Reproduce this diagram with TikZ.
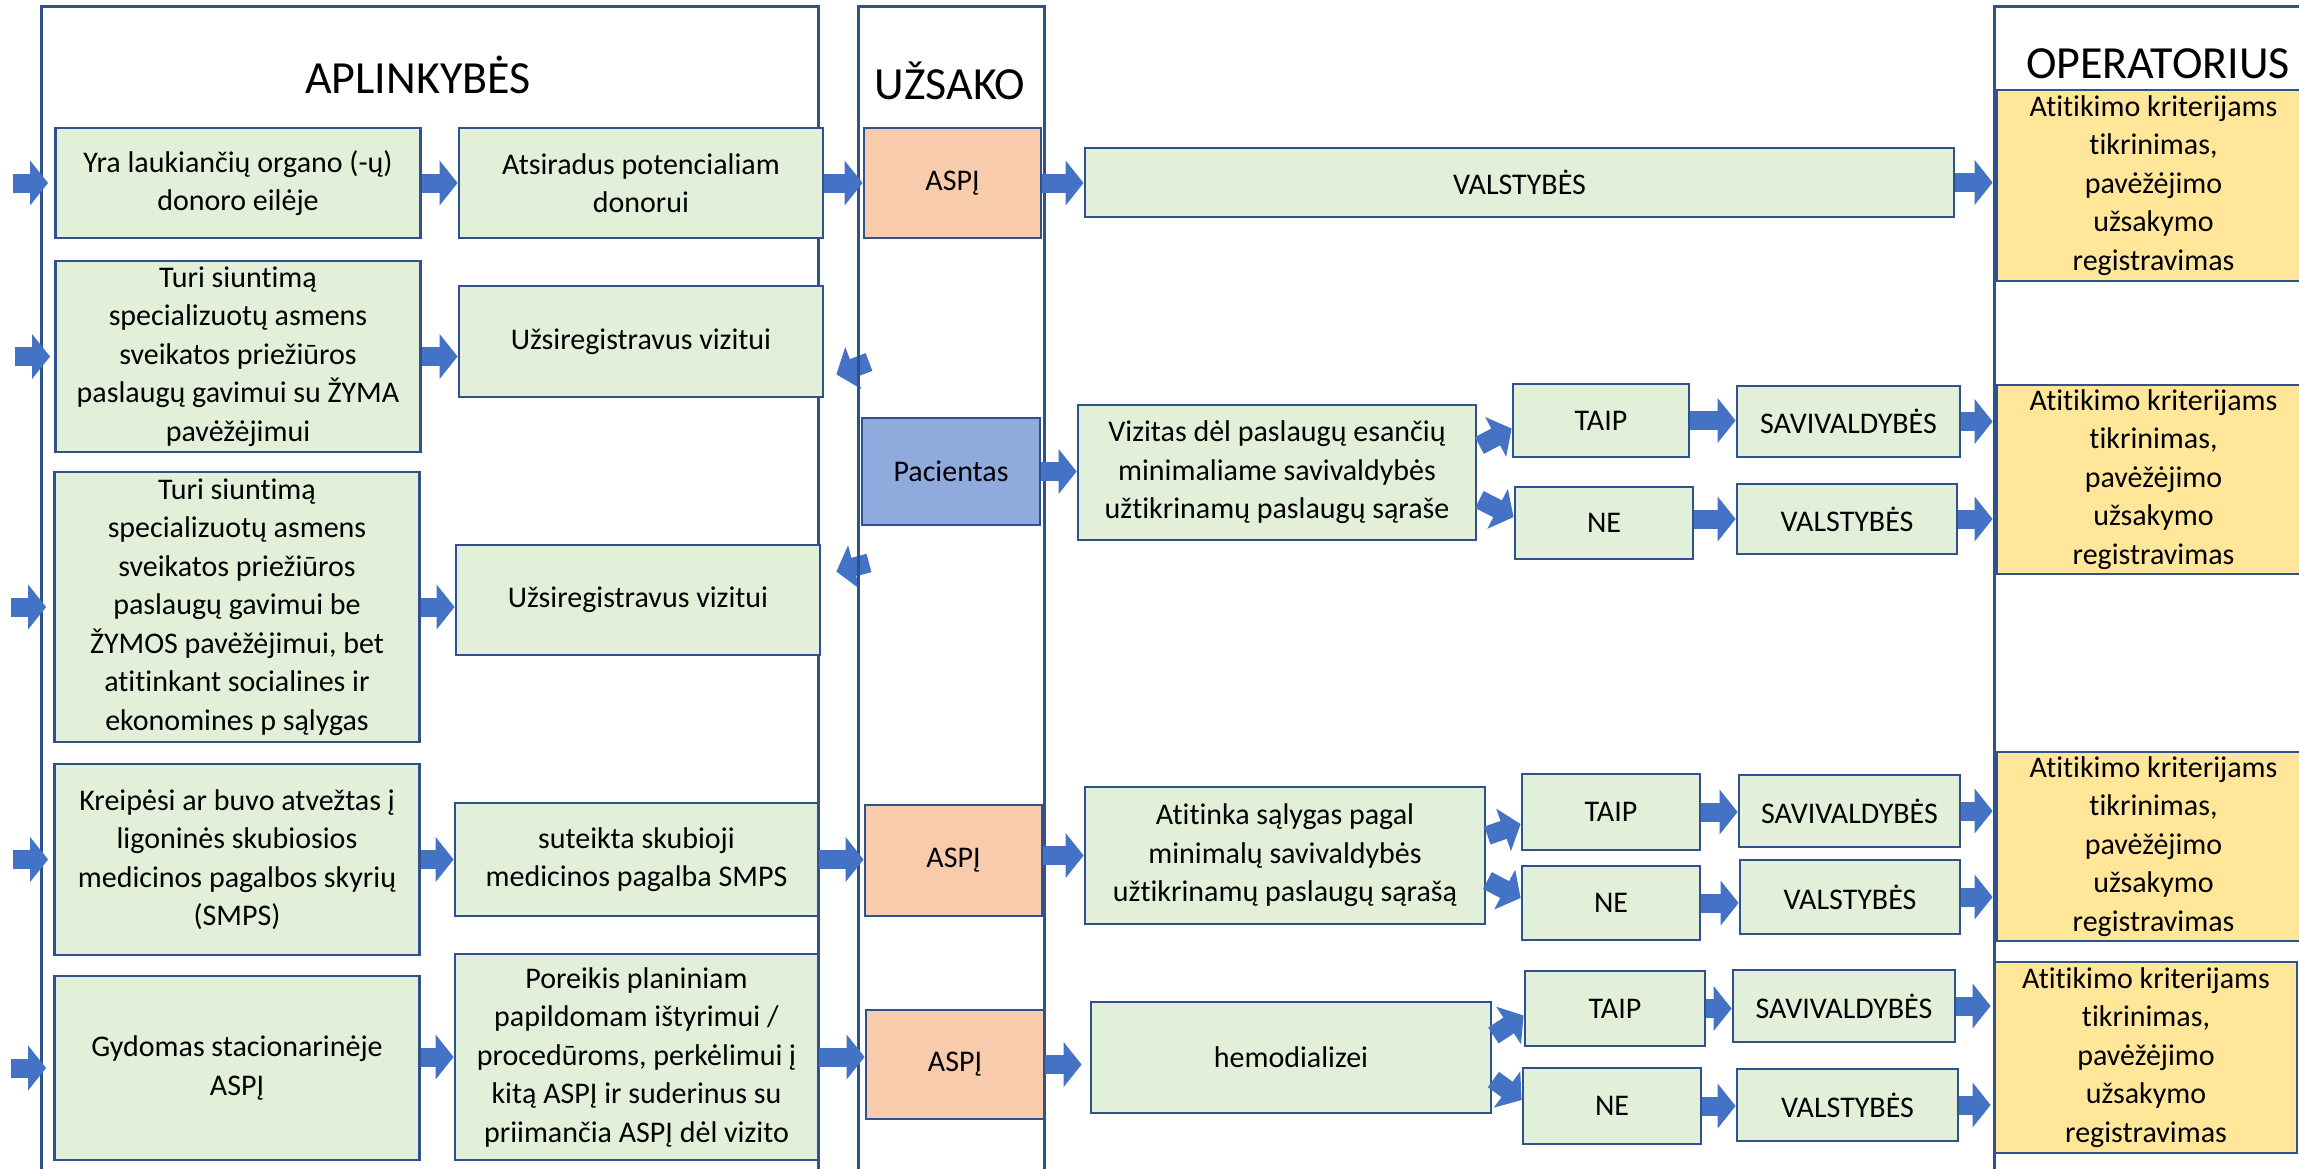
\documentclass[tikz,border=0pt]{standalone}
\usepackage{fontspec}
\setmainfont{Carlito}[RawFeature={-liga}]
\usetikzlibrary{arrows.meta,calc}
\definecolor{bord}{HTML}{2F528F}
\definecolor{grn}{HTML}{E2F0D9}
\definecolor{org}{HTML}{F8CBAD}
\definecolor{pac}{HTML}{8FAADC}
\definecolor{ylw}{HTML}{FFE699}
\definecolor{arr}{HTML}{4472C4}
\begin{document}
\begin{tikzpicture}[x=1pt,y=-1pt,
  box/.style={draw=bord, line width=2.8pt, fill=grn, align=center, inner sep=0pt,
    font=\fontsize{30}{38.5}\selectfont},
  obox/.style={box, fill=org},
  pbox/.style={box, fill=pac},
  ybox/.style={box, fill=ylw, font=\fontsize{30}{38.4}\selectfont},
  frame/.style={draw=bord, line width=3pt},
  ttl/.style={anchor=base, inner sep=0pt, font=\fontsize{46}{50}\selectfont},
  barrow/.style={draw=arr, line width=19pt, -{Triangle[length=18pt,width=44pt]}}
]
\useasboundingbox (0,0) rectangle (2299,1168);
\clip (0,0) rectangle (2299,1168);
\fill[white] (0,0) rectangle (2299,1168);

% frames
\draw[frame] (41,1175) -- (41,6) -- (818,6) -- (818,1175);
\draw[frame] (858,1175) -- (858,6) -- (1044,6) -- (1044,1175);
\draw[frame] (1994,1175) -- (1994,6) -- (2310,6);
\node[ttl] (t1) at (418,93) {APLINKYBĖS};
\node[ttl] (t2) at (950,99) {UŽSAKO};
\node[ttl] (t3) at (2158,78) {OPERATORIUS};

% left column
\node[box, minimum width=365pt, minimum height=110pt] (L1) at (238,183) {Yra laukiančių organo (-ų)\\donoro eilėje};
\node[box, minimum width=365pt, minimum height=191pt] (L2) at (238,356.5) {Turi siuntimą\\specializuotų asmens\\sveikatos priežiūros\\paslaugų gavimui su ŽYMA\\pavėžėjimui};
\node[box, minimum width=365pt, minimum height=270pt] (L3) at (237,607) {Turi siuntimą\\specializuotų asmens\\sveikatos priežiūros\\paslaugų gavimui be\\ŽYMOS pavėžėjimui, bet\\atitinkant socialines ir\\ekonomines p sąlygas};
\node[box, minimum width=365pt, minimum height=191pt] (L4) at (237,859.5) {Kreipėsi ar buvo atvežtas į\\ligoninės skubiosios\\medicinos pagalbos skyrių\\(SMPS)};
\node[box, minimum width=365pt, minimum height=184pt] (L5) at (237,1068) {Gydomas stacionarinėje\\ASPĮ};

% second column
\node[box, minimum width=364pt, minimum height=110pt] (M1) at (641,183) {Atsiradus potencialiam\\donorui};
\node[box, minimum width=364pt, minimum height=111pt] (M2) at (641,341.5) {Užsiregistravus vizitui};
\node[box, minimum width=364pt, minimum height=110pt] (M3) at (638,600) {Užsiregistravus vizitui};
\node[box, minimum width=363pt, minimum height=113pt] (M4) at (636.5,859.5) {suteikta skubioji\\medicinos pagalba SMPS};
\node[box, minimum width=363pt, minimum height=206pt] (M5) at (636.5,1057) {Poreikis planiniam\\papildomam ištyrimui /\\procedūroms, perkėlimui į\\kitą ASPĮ ir suderinus su\\priimančia ASPĮ dėl vizito};

% UŽSAKO column
\node[obox, minimum width=177pt, minimum height=110pt] (U1) at (952.5,183) {ASPĮ};
\node[pbox, minimum width=178pt, minimum height=107pt] (P) at (951,471.5) {Pacientas};
\node[obox, minimum width=177pt, minimum height=111pt] (U2) at (953.5,860.5) {ASPĮ};
\node[obox, minimum width=178pt, minimum height=109pt] (U3) at (955,1064.5) {ASPĮ};

% third column
\node[box, minimum width=869pt, minimum height=69pt] (V0) at (1519.5,182.5) {VALSTYBĖS};
\node[box, minimum width=398pt, minimum height=135pt] (Viz) at (1277,472.5) {Vizitas dėl paslaugų esančių\\minimaliame savivaldybės\\užtikrinamų paslaugų sąraše};
\node[box, minimum width=176pt, minimum height=73pt] (T1) at (1601,420.5) {TAIP};
\node[box, minimum width=178pt, minimum height=72pt] (N1) at (1604,523) {NE};
\node[box, minimum width=223pt, minimum height=71pt] (S1) at (1848.5,421.5) {SAVIVALDYBĖS};
\node[box, minimum width=220pt, minimum height=70pt] (W1) at (1847,519) {VALSTYBĖS};

\node[box, minimum width=400pt, minimum height=137pt] (Ati) at (1285,855.5) {Atitinka sąlygas pagal\\minimalų savivaldybės\\užtikrinamų paslaugų sąrašą};
\node[box, minimum width=178pt, minimum height=76pt] (T2) at (1611,812) {TAIP};
\node[box, minimum width=178pt, minimum height=74pt] (N2) at (1611,903) {NE};
\node[box, minimum width=221pt, minimum height=72pt] (S2) at (1849.5,811) {SAVIVALDYBĖS};
\node[box, minimum width=220pt, minimum height=74pt] (W2) at (1850,897) {VALSTYBĖS};

\node[box, minimum width=400pt, minimum height=111pt] (H) at (1291,1057.5) {hemodializei};
\node[box, minimum width=180pt, minimum height=75pt] (T3) at (1615,1008.5) {TAIP};
\node[box, minimum width=178pt, minimum height=76pt] (N3) at (1612,1106) {NE};
\node[box, minimum width=222pt, minimum height=72pt] (S3) at (1844,1006) {SAVIVALDYBĖS};
\node[box, minimum width=221pt, minimum height=72pt] (W3) at (1847.5,1105) {VALSTYBĖS};

% operator boxes
\node[ybox, minimum width=313pt, minimum height=191pt] (Y1) at (2153.5,185.5) {Atitikimo kriterijams\\tikrinimas,\\pavėžėjimo\\užsakymo\\registravimas};
\node[ybox, minimum width=313pt, minimum height=189pt] (Y2) at (2153.5,479.5) {Atitikimo kriterijams\\tikrinimas,\\pavėžėjimo\\užsakymo\\registravimas};
\node[ybox, minimum width=313pt, minimum height=189pt] (Y3) at (2153.5,846.5) {Atitikimo kriterijams\\tikrinimas,\\pavėžėjimo\\užsakymo\\registravimas};
\node[ybox, minimum width=302pt, minimum height=191pt] (Y4) at (2146,1057.5) {Atitikimo kriterijams\\tikrinimas,\\pavėžėjimo\\užsakymo\\registravimas};

% free ends
\coordinate (i1) at (13,183);
\coordinate (i2) at (15,356.5);
\coordinate (i3) at (11,607);
\coordinate (i4) at (13,859.5);
\coordinate (i5) at (11,1068);
\coordinate (q1) at (869,362);
\coordinate (q2) at (869,563);

% connectors
\draw[barrow] (i1) -- ([xshift=-6pt]L1.west);
\draw[barrow] (i2) -- ([xshift=-4pt]L2.west);
\draw[barrow] (i3) -- ([xshift=-7pt]L3.west);
\draw[barrow] (i4) -- ([xshift=-5pt]L4.west);
\draw[barrow] (i5) -- ([xshift=-7pt]L5.west);

\draw[barrow] (L1.east) -- (M1.west);
\draw[barrow] (L2.east) -- (L2.east -| M2.west);
\draw[barrow] (L3.east) -- (L3.east -| M3.west);
\draw[barrow] (L4.east) -- (M4.west);
\draw[barrow] (M5.west -| L5.east) -- (M5.west);

\draw[barrow] (M1.east) -- (U1.west);
\draw[barrow] (M4.east) -- (M4.east -| U2.west);
\draw[barrow] (M5.east) -- (M5.east -| U3.west);
\draw[barrow] (q1) -- ($(M2.south east)+(12,-24)$);
\draw[barrow] (q2) -- ($(M3.north east)+(15,28)$);

\draw[barrow] (U1.east) -- (U1.east -| V0.west);
\draw[barrow] (P.east) -- (P.east -| Viz.west);
\draw[barrow] (Ati.west -| U2.east) -- (Ati.west);
\draw[barrow] (U3.east) -- ([xshift=-8pt]U3.east -| H.west);

\draw[barrow] ($(Viz.east)+(2,-27)$) -- ($(T1.west)+(0,8)$);
\draw[barrow] ($(Viz.east)+(2,27)$) -- ($(N1.west)+(0,-6)$);
\draw[barrow] ($(Ati.east)+(1,-20)$) -- ($(T2.west)+(0,12)$);
\draw[barrow] ($(Ati.east)+(1,25)$) -- ($(N2.west)+(0,-5)$);
\draw[barrow] ($(H.east)+(1,-22)$) -- ($(T3.west)+(0,7)$);
\draw[barrow] ($(H.east)+(1,22)$) -- ($(N3.west)+(0,-6)$);

\draw[barrow] (T1.east) -- (T1.east -| S1.west);
\draw[barrow] (W1.west -| N1.east) -- (W1.west);
\draw[barrow] (T2.east) -- (T2.east -| S2.west);
\draw[barrow] (N2.east) -- (N2.east -| W2.west);
\draw[barrow] (T3.east) -- (T3.east -| S3.west);
\draw[barrow] (N3.east) -- (N3.east -| W3.west);

\draw[barrow] (V0.east) -- ([xshift=-3pt]V0.east -| Y1.west);
\draw[barrow] (S1.east) -- ([xshift=-3pt]S1.east -| Y2.west);
\draw[barrow] (W1.east) -- ([xshift=-3pt]W1.east -| Y2.west);
\draw[barrow] (S2.east) -- ([xshift=-3pt]S2.east -| Y3.west);
\draw[barrow] (W2.east) -- ([xshift=-3pt]W2.east -| Y3.west);
\draw[barrow] (S3.east) -- ([xshift=-3pt]S3.east -| Y4.west);
\draw[barrow] (W3.east) -- ([xshift=-3pt]W3.east -| Y4.west);

% frame line over the small arrows by the UŽSAKO column
\draw[frame] (858,330) -- (858,400);
\draw[frame] (858,540) -- (858,600);
\end{tikzpicture}
\end{document}
